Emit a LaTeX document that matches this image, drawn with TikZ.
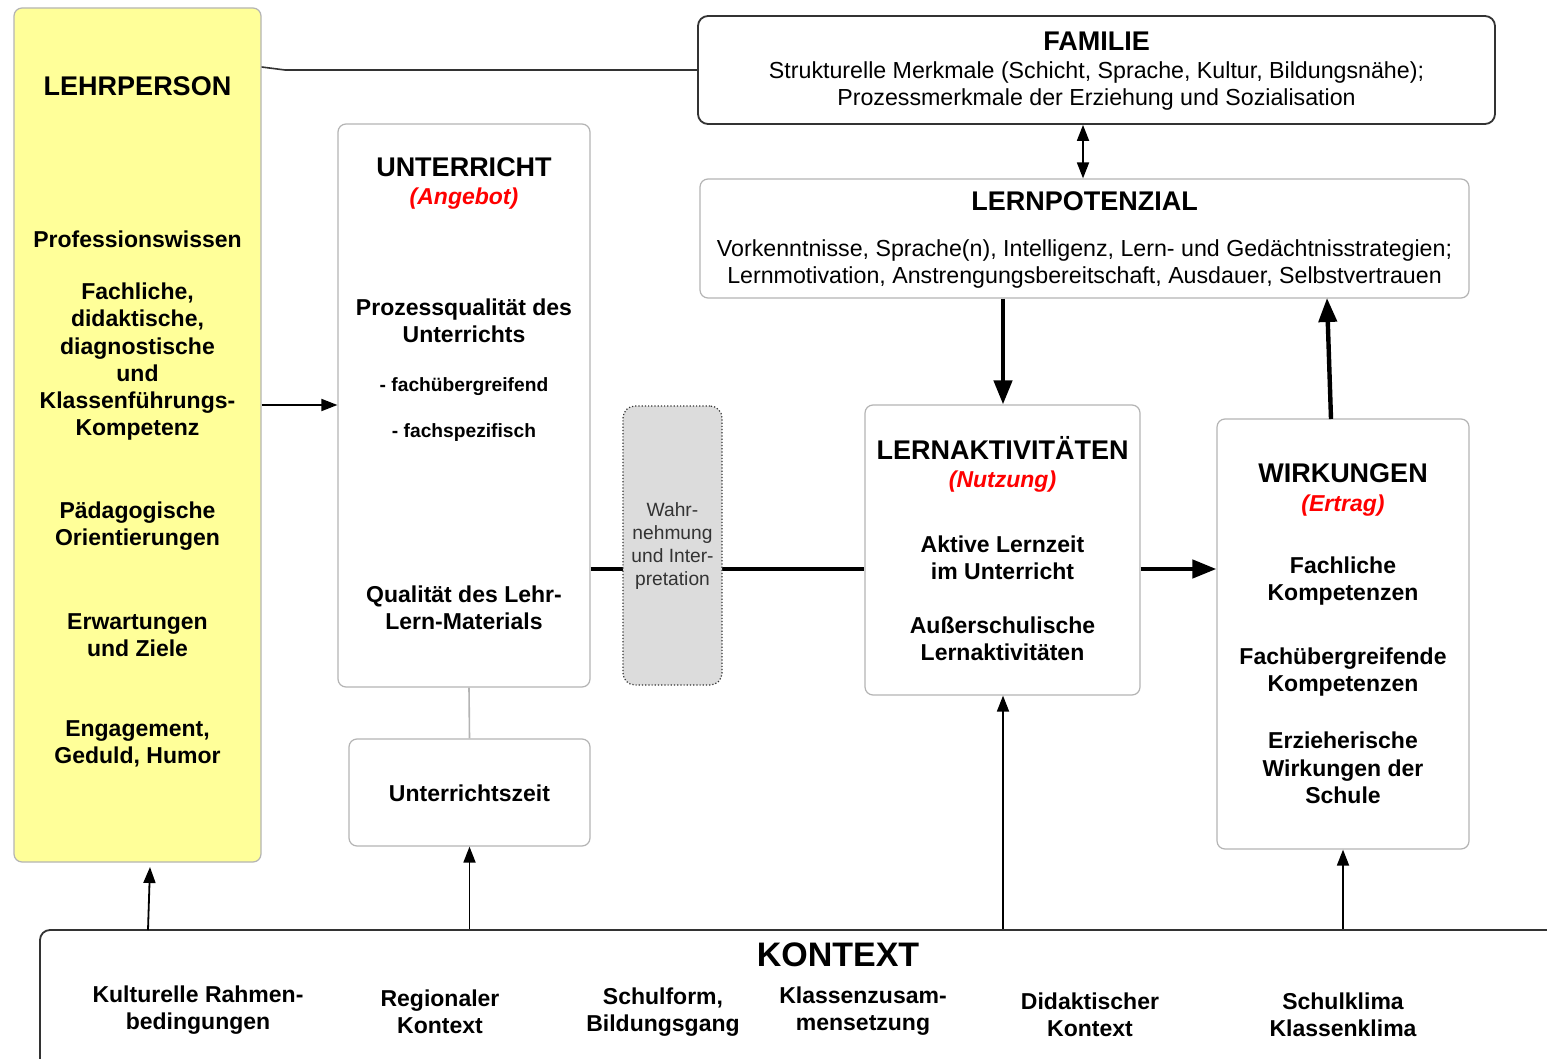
\documentclass[tikz,border=0pt]{standalone}
\usepackage{fontspec}
\setmainfont{Liberation Sans}
\usetikzlibrary{arrows.meta,calc}
\definecolor{lpyellow}{HTML}{FFFF99}
\definecolor{boxgray}{HTML}{B4B4B4}
\definecolor{darkline}{HTML}{333333}
\definecolor{wahrfill}{HTML}{DCDCDC}
\definecolor{wahrtext}{HTML}{333333}
\begin{document}
\begin{tikzpicture}[x=0.5pt,y=-0.5pt,
  box/.style={draw=boxgray, line width=0.6pt, rounded corners=4pt, inner sep=0pt, fill=white},
  darkbox/.style={draw=darkline, line width=0.9pt, rounded corners=5pt, inner sep=0pt, fill=white},
  hd/.style={font=\fontsize{13.5}{16}\selectfont\bfseries, inner sep=0pt},
  bt/.style={font=\fontsize{11.5}{13.6}\selectfont\bfseries, align=center, inner sep=0pt, yshift=-0.4pt},
  st/.style={font=\fontsize{9.6}{11}\selectfont\bfseries, inner sep=0pt, yshift=-0.5pt},
  rt/.style={font=\fontsize{11.6}{13.6}\selectfont, align=center, inner sep=0pt, yshift=-0.5pt},
  red/.style={font=\fontsize{11.5}{13.6}\selectfont\bfseries\itshape, text=red, inner sep=0pt, yshift=-1pt},
  thin/.style={draw=black, line width=0.9pt, -{Triangle[length=8pt,width=6pt]}},
  thick/.style={draw=black, line width=2.2pt, -{Triangle[length=12pt,width=9pt]}},
]
\clip (0,0) rectangle (1547,1059);
\useasboundingbox (0,0) rectangle (1547,1059);
\fill[white] (0,0) rectangle (1547,1059);

% ---------------- boxes ----------------
\node[box, fill=lpyellow, minimum width=123.5pt, minimum height=427pt] (lp) at (137.5,435) {};
\node[box, minimum width=126pt, minimum height=281.5pt] (unt) at (464,405.5) {};
\node[box, minimum width=120.5pt, minimum height=53.5pt] (uzeit) at (469.5,792.5) {};
\node[darkbox, minimum width=398.5pt, minimum height=54pt] (fam) at (1096.5,70) {};
\node[box, minimum width=384.5pt, minimum height=59.5pt] (lpot) at (1084.5,238.5) {};
\node[box, minimum width=137.5pt, minimum height=145pt] (lakt) at (1002.5,550) {};
\node[box, minimum width=126pt, minimum height=215pt] (wirk) at (1343,634) {};
\node[darkbox, minimum width=770pt, minimum height=85pt] (kon) at (810,1015) {};

% ---------------- connectors ----------------
\coordinate (famjoin) at (285,70);
\draw[darkline, line width=0.8pt] (lp.north east |- 0,67) -- (famjoin) -- (fam.west |- famjoin);
\draw[thin] (lp.east |- 0,405) -- (unt.west |- 0,405);
\draw[boxgray, line width=0.8pt] (unt.south -| 469,0) -- (uzeit.north);
\draw[black, line width=2.2pt] (unt.east |- 0,569) -- (lakt.west |- 0,569);
\draw[thick] (lakt.east |- 0,569) -- (wirk.west |- 0,569);
\draw[draw=black, line width=0.9pt, {Triangle[length=8pt,width=6pt]}-{Triangle[length=8pt,width=6pt]}] (fam.south -| 1083,0) -- (lpot.north -| 1083,0);
\draw[thick] (lpot.south -| 1003,0) -- (lakt.north -| 1003,0);
\coordinate (wtop) at (1331,419);
\coordinate (lpbot) at (1327,298);
\draw[thick] (wtop) -- (lpbot);
\coordinate (k1) at (148,930);
\coordinate (k1t) at (150,867);
\draw[thin] (k1) -- (k1t);
\draw[thin] (uzeit.south |- kon.north) -- (uzeit.south);
\draw[thin] (kon.north -| 1003,0) -- (lakt.south -| 1003,0);
\draw[thin] (kon.north -| wirk.south) -- (wirk.south);

% Wahrnehmung box (on top of line)
\node[draw=darkline, densely dotted, line width=0.6pt, fill=wahrfill, rounded corners=6pt,
      minimum width=49.5pt, minimum height=139.5pt, inner sep=0pt] (wahr) at (672.5,545.5) {};
\node[font=\fontsize{9.6}{11.5}\selectfont, text=wahrtext, align=center, inner sep=0pt] (wahrt) at (672.5,546.5) {Wahr-\\nehmung\\und Inter-\\pretation};

% ---------------- texts ----------------
% Lehrperson
\node[hd] (lpt) at (137.5,86) {LEHRPERSON};
\node[bt] (lp1) at (137.5,238) {Professionswissen};
\node[bt] (lp2) at (137.5,361) {Fachliche,\\didaktische,\\diagnostische\\und\\Klassenführungs-\\Kompetenz};
\node[bt] (lp3) at (137.5,525) {Pädagogische\\Orientierungen};
\node[bt] (lp4) at (137.5,634) {Erwartungen\\und Ziele};
\node[bt] (lp5) at (137.5,743) {Engagement,\\Geduld, Humor};

% Unterricht
\node[hd] (untt) at (464,167) {UNTERRICHT};
\node[red] (unta) at (464,197) {(Angebot)};
\node[bt] (unt1) at (464,320) {Prozessqualität des\\Unterrichts};
\node[st] (unt2) at (464,386) {- fachübergreifend};
\node[st] (unt3) at (464,432) {- fachspezifisch};
\node[bt] (unt4) at (464,607) {Qualität des Lehr-\\Lern-Materials};
\node[bt] (uzt) at (469.5,792) {Unterrichtszeit};

% Familie
\node[hd] (famt) at (1096.5,41) {FAMILIE};
\node[rt] (fam1) at (1096.5,85) {Strukturelle Merkmale (Schicht, Sprache, Kultur, Bildungsnähe);\\Prozessmerkmale der Erziehung und Sozialisation};

% Lernpotenzial
\node[hd] (lpott) at (1084.5,201) {LERNPOTENZIAL};
\node[rt] (lpot1) at (1084.5,263) {Vorkenntnisse, Sprache(n), Intelligenz, Lern- und Gedächtnisstrategien;\\Lernmotivation, Anstrengungsbereitschaft, Ausdauer, Selbstvertrauen};

% Lernaktivitäten
\node[hd] (laktt) at (1002.5,448) {LERNAKTIVITÄTEN};
\node[red] (lakta) at (1002.5,480) {(Nutzung)};
\node[bt] (lakt1) at (1002.5,557) {Aktive Lernzeit\\im Unterricht};
\node[bt] (lakt2) at (1002.5,638) {Außerschulische\\Lernaktivitäten};

% Wirkungen
\node[hd] (wirkt) at (1343,473) {WIRKUNGEN};
\node[red] (wirka) at (1343,504) {(Ertrag)};
\node[bt] (wirk1) at (1343,580) {Fachliche\\Kompetenzen};
\node[bt] (wirk2) at (1343,671) {Fachübergreifende\\Kompetenzen};
\node[bt] (wirk3) at (1343,767) {Erzieherische\\Wirkungen der\\Schule};

% Kontext
\node[font=\fontsize{17}{20}\selectfont\bfseries, inner sep=0pt] (kont) at (838,955) {KONTEXT};
\node[bt] (kon1) at (198,1009) {Kulturelle Rahmen-\\bedingungen};
\node[bt] (kon2) at (440,1011) {Regionaler\\Kontext};
\node[bt] (kon3) at (663,1011) {Schulform,\\Bildungsgang};
\node[bt] (kon4) at (863,1010) {Klassenzusam-\\mensetzung};
\node[bt] (kon5) at (1090,1014) {Didaktischer\\Kontext};
\node[bt] (kon6) at (1343,1014) {Schulklima\\Klassenklima};
\end{tikzpicture}
\end{document}
